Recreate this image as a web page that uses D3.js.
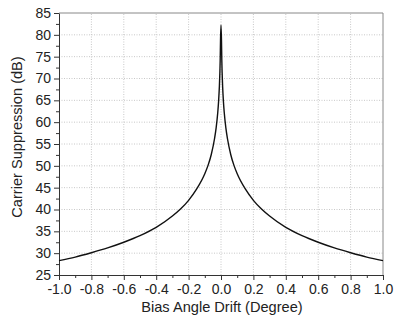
<!DOCTYPE html>
<html>
<head>
<meta charset="utf-8">
<script src="https://cdn.jsdelivr.net/npm/d3@7"></script>
<style>
  body { margin: 0; background: #fff; }
  text { font-family: "Liberation Sans", Arial, sans-serif; fill: #222; }
</style>
</head>
<body>
<div id="chart"></div>
<script>
// values
const driftDeg = [-1.0, -0.9, -0.8, -0.7, -0.6, -0.5, -0.4, -0.3, -0.25, -0.2, -0.15, -0.1, -0.08, -0.06, -0.04, -0.03, -0.02, -0.015, -0.01, -0.007, -0.005, -0.003,
                  0,
                  0.003, 0.005, 0.007, 0.01, 0.015, 0.02, 0.03, 0.04, 0.06, 0.08, 0.1, 0.15, 0.2, 0.25, 0.3, 0.4, 0.5, 0.6, 0.7, 0.8, 0.9, 1.0];
const suppressionDb = [28.3, 29.1, 30.1, 31.2, 32.5, 34.0, 35.9, 38.5, 40.1, 42.1, 44.7, 48.2, 50.1, 52.6, 56.2, 58.7, 62.2, 64.7, 68.2, 71.3, 74.2, 78.7,
                       82.2,
                       78.7, 74.2, 71.3, 68.2, 64.7, 62.2, 58.7, 56.2, 52.6, 50.1, 48.2, 44.7, 42.1, 40.1, 38.5, 35.9, 34.0, 32.5, 31.2, 30.1, 29.1, 28.3];
const xTicks = [-1.0, -0.8, -0.6, -0.4, -0.2, 0.0, 0.2, 0.4, 0.6, 0.8, 1.0];
const yTicks = [25, 30, 35, 40, 45, 50, 55, 60, 65, 70, 75, 80, 85];

const width = 394;
const height = 325;
const margin = {top: 13, right: 11, bottom: 50, left: 59};

const svg = d3.select("#chart")
    .append("svg")
    .attr("width", width)
    .attr("height", height);

const x = d3.scaleLinear().domain([-1, 1]).range([margin.left, width - margin.right]);
const y = d3.scaleLinear().domain([25, 85]).range([height - margin.bottom, margin.top]);

// dotted grid
svg.append("g")
    .selectAll("line")
    .data(xTicks.slice(1, -1))
    .enter()
    .append("line")
    .attr("x1", d => x(d)).attr("x2", d => x(d))
    .attr("y1", y(25)).attr("y2", y(85))
    .attr("stroke", "#c8c8c8")
    .attr("stroke-dasharray", "1,1.5");

svg.append("g")
    .selectAll("line")
    .data(yTicks.slice(1, -1))
    .enter()
    .append("line")
    .attr("x1", x(-1)).attr("x2", x(1))
    .attr("y1", d => y(d)).attr("y2", d => y(d))
    .attr("stroke", "#c8c8c8")
    .attr("stroke-dasharray", "1,1.5");

// frame top / right
svg.append("path")
    .attr("d", `M${x(-1)},${y(85)}H${x(1)}V${y(25)}`)
    .attr("fill", "none")
    .attr("stroke", "#888")
    .attr("stroke-width", 1);

// minor ticks
const xMinor = d3.range(-9, 10, 2).map(d => d / 10);
const yMinor = d3.range(27.5, 85, 5);

const xAxis = svg.append("g")
    .attr("transform", `translate(0,${y(25)})`)
    .call(d3.axisBottom(x).tickValues(xTicks).tickFormat(d => d.toFixed(1)).tickSize(5).tickSizeOuter(0));
svg.append("g")
    .attr("transform", `translate(0,${y(25)})`)
    .call(d3.axisBottom(x).tickValues(xMinor).tickFormat("").tickSize(3).tickSizeOuter(0))
    .select(".domain").remove();

const yAxis = svg.append("g")
    .attr("transform", `translate(${x(-1)},0)`)
    .call(d3.axisLeft(y).tickValues(yTicks).tickSize(5).tickSizeOuter(0));
svg.append("g")
    .attr("transform", `translate(${x(-1)},0)`)
    .call(d3.axisLeft(y).tickValues(yMinor).tickFormat("").tickSize(3).tickSizeOuter(0))
    .select(".domain").remove();

svg.selectAll(".domain, .tick line").attr("stroke", "#333");
svg.selectAll(".tick text")
    .style("font-size", "14px")
    .style("font-family", "'Liberation Sans', Arial, sans-serif")
    .attr("fill", "#222");
xAxis.selectAll(".tick text").attr("y", 8).attr("dy", "11px");
yAxis.selectAll(".tick text").attr("x", -8);

// curve
const points = driftDeg.map((d, i) => ({drift: d, cs: suppressionDb[i]}));
const line = d3.line()
    .x(d => x(d.drift))
    .y(d => y(d.cs))
    .curve(d3.curveMonotoneX);

svg.append("path")
    .datum(points)
    .attr("d", line)
    .attr("fill", "none")
    .attr("stroke", "#111")
    .attr("stroke-width", 1.4);

// axis titles
svg.append("text")
    .attr("x", (x(-1) + x(1)) / 2 + 1)
    .attr("y", 312)
    .attr("text-anchor", "middle")
    .style("font-size", "14.6px")
    .text("Bias Angle Drift (Degree)");

svg.append("text")
    .attr("transform", `translate(22,137) rotate(-90)`)
    .attr("text-anchor", "middle")
    .style("font-size", "14.6px")
    .text("Carrier Suppression (dB)");
</script>
</body>
</html>
